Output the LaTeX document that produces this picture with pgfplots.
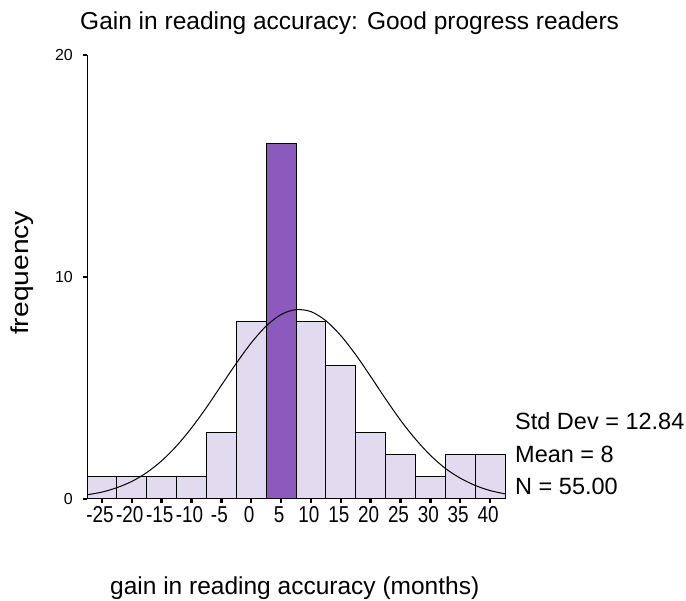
\documentclass[border=0pt]{standalone}
\usepackage{pgfplots}
\pgfplotsset{compat=1.18}
\usepackage{fontspec}
\setmainfont{Liberation Sans}
\newfontfamily\tickfont[FakeStretch=0.82]{Liberation Sans}
\newfontfamily\widefont[FakeStretch=1.15]{Liberation Sans}
\definecolor{lightbar}{RGB}{226,219,240}
\definecolor{purplebar}{RGB}{140,90,188}
\begin{document}
\begin{tikzpicture}
\useasboundingbox (0,0) rectangle (686pt,601pt);
\begin{axis}[
  at={(87pt,102pt)}, anchor=south west,
  scale only axis, width=418pt, height=444pt,
  xmin=-27.5, xmax=42.5, ymin=0, ymax=20,
  axis x line=bottom, axis y line=left,
  axis line style={-, line width=1pt, black},
  xtick={-25,-20,-15,-10,-5,0,5,10,15,20,25,30,35,40},
  ytick={0,10,20},
  tick align=outside, major tick length=4pt,
  tick style={black, line width=2.5pt},
  /pgf/number format/assume math mode=true,
  xticklabel style={font=\tickfont\fontsize{23}{23}\selectfont, inner sep=1pt, yshift=-2pt, xshift=-2pt},
  yticklabel style={font=\fontsize{16}{16}\selectfont, inner sep=2pt, xshift=-8pt},
  axis on top=true,
  clip=false,
]
\addplot[ybar interval, fill=lightbar, draw=black, line width=1pt] coordinates {
(-27.5,1) (-22.5,1) (-17.5,1) (-12.5,1) (-7.5,3) (-2.5,8) (2.5,16) (7.5,8)
(12.5,6) (17.5,3) (22.5,2) (27.5,1) (32.5,2) (37.5,2) (42.5,2)};
\addplot[ybar interval, fill=purplebar, draw=black, line width=1pt] coordinates {
(2.5,16) (7.5,16)};
\addplot[black, line width=1pt, smooth] coordinates {
(-27.5,0.19) (-25,0.31) (-22.5,0.51) (-20,0.79) (-17.5,1.19) (-15,1.72)
(-12.5,2.39) (-10,3.20) (-7.5,4.12) (-5,5.12) (-2.5,6.11) (0,7.03)
(2.5,7.79) (5,8.31) (7.5,8.53) (10,8.44) (12.5,8.03) (15,7.36)
(17.5,6.50) (20,5.52) (22.5,4.51) (25,3.55) (27.5,2.70) (30,1.97)
(32.5,1.38) (35,0.94) (37.5,0.61) (40,0.38) (42.5,0.23)};
\end{axis}
\node[anchor=base west, inner sep=0pt, font=\fontsize{24.5}{24.5}\selectfont] at (80pt,571pt) {Gain in reading accuracy: Good progress readers};
\node[rotate=90, inner sep=0pt, font=\widefont\fontsize{24.5}{24.5}\selectfont] at (22pt,328pt) {frequency};
\node[anchor=base west, inner sep=0pt, font=\fontsize{24.5}{24.5}\selectfont] at (110pt,6pt) {gain in reading accuracy (months)};
\node[anchor=base west, inner sep=0pt, font=\fontsize{23.5}{23.5}\selectfont] at (515pt,171pt) {Std Dev = 12.84};
\node[anchor=base west, inner sep=0pt, font=\fontsize{23.5}{23.5}\selectfont] at (515pt,138pt) {Mean = 8};
\node[anchor=base west, inner sep=0pt, font=\fontsize{23.5}{23.5}\selectfont] at (515pt,106pt) {N = 55.00};
\end{tikzpicture}
\end{document}
